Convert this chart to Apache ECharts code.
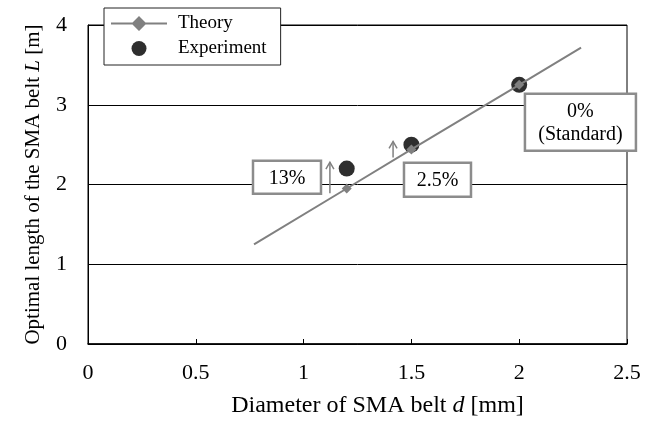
<!DOCTYPE html>
<html><head><meta charset="utf-8">
<script src="https://cdn.jsdelivr.net/npm/echarts@6/dist/echarts.min.js"></script>
<style>html,body{margin:0;padding:0;background:#fff}#c{width:658px;height:423px}</style>
</head><body><div id="c"></div>
<script>
// ---- data ----
const theoryD = [0.77, 1.2, 1.5, 2.0, 2.287];
const theoryL = [1.25, 1.95, 2.44, 3.25, 3.715];
const theoryMarked = [false, true, true, true, false];
const expD = [1.2, 1.5, 2.0];
const expL = [2.2, 2.5, 3.25];
const xTickLabels = ['0', '0.5', '1', '1.5', '2', '2.5'];
const yTickLabels = ['0', '1', '2', '3', '4'];
const noteTexts = ['13%', '2.5%', '0%\n(Standard)'];
// annotation anchors (data coordinates, box centres)
const noteAt = [[0.923, 2.09], [1.621, 2.06], [2.284, 2.78]];
// arrows: d, from L, to L
const arrowD = [1.122, 1.415];
const arrowFrom = [1.89, 2.34];
const arrowTo = [2.28, 2.54];

const FF = 'Liberation Serif';
const chart = echarts.init(document.getElementById('c'), null, {renderer: 'canvas'});

const theoryData = theoryD.map((d, i) => theoryMarked[i] ? [d, theoryL[i]] : {value: [d, theoryL[i]], symbol: 'none'});
const expData = expD.map((d, i) => [d, expL[i]]);

chart.setOption({
  animation: false,
  backgroundColor: '#fff',
  grid: {left: 88, right: 31, top: 25, bottom: 79, show: true, borderColor: '#000', borderWidth: 1, backgroundColor: 'transparent'},
  legend: {
    data: [
      {name: 'Theory', icon: 'path://M0,6.5 L56,6.5 L56,8.5 L0,8.5 Z M28,0 L35.5,7.5 L28,15 L20.5,7.5 Z'},
      {name: 'Experiment'}
    ],
    left: 104, top: 8, orient: 'vertical',
    backgroundColor: '#fff', borderColor: '#222', borderWidth: 1,
    padding: [6, 14, 7, 7], itemGap: 6, itemWidth: 56, itemHeight: 15,
    textStyle: {fontFamily: FF, fontSize: 19, color: '#000', padding: [0, 0, 0, 6]}
  },
  xAxis: {
    type: 'value', min: 0, max: 2.5, interval: 0.5,
    axisLine: {show: true, lineStyle: {color: '#000', width: 1.5}},
    axisTick: {show: true, inside: true, length: 5, lineStyle: {color: '#000'}},
    splitLine: {show: false},
    axisLabel: {fontFamily: FF, fontSize: 22, color: '#000', margin: 18,
      formatter: v => xTickLabels[Math.round(v / 0.5)]},
    name: 'Diameter of SMA belt {i|d} [mm]', nameLocation: 'middle', nameGap: 50,
    nameTextStyle: {fontFamily: FF, fontSize: 24, color: '#000', padding: [0, 0, 0, 40],
      rich: {i: {fontFamily: FF, fontSize: 24, fontStyle: 'italic', color: '#000'}}}
  },
  yAxis: {
    type: 'value', min: 0, max: 4, interval: 1,
    axisLine: {show: true, lineStyle: {color: '#000', width: 1}},
    axisTick: {show: false},
    splitLine: {show: true, lineStyle: {color: '#000', width: 1}},
    axisLabel: {fontFamily: FF, fontSize: 22, color: '#000', margin: 21,
      formatter: v => yTickLabels[Math.round(v)]},
    name: 'Optimal length of the SMA belt {i|L} [m]', nameLocation: 'middle', nameGap: 44,
    nameTextStyle: {fontFamily: FF, fontSize: 21, color: '#000',
      rich: {i: {fontFamily: FF, fontSize: 21, fontStyle: 'italic', color: '#000'}}}
  },
  series: [
    {
      name: 'Experiment', type: 'scatter', data: expData, z: 2,
      symbol: 'circle', symbolSize: 16,
      itemStyle: {color: '#2e2e2e', opacity: 1}
    },
    {
      name: 'Theory', type: 'line', data: theoryData, z: 3,
      symbol: 'diamond', symbolSize: 10, showSymbol: true,
      lineStyle: {color: '#808080', width: 2},
      itemStyle: {color: '#808080'}
    }
  ]
});

function px(d, l) { return chart.convertToPixel({gridIndex: 0}, [d, l]); }

const graphics = [];
const boxSizes = [[68, 33], [67, 34], [111, 57]];
noteTexts.forEach((t, i) => {
  const c = px(noteAt[i][0], noteAt[i][1]);
  const w = boxSizes[i][0], h = boxSizes[i][1];
  graphics.push({
    type: 'rect', shape: {x: c[0] - w / 2, y: c[1] - h / 2, width: w, height: h},
    style: {fill: '#fff', stroke: '#8c8c8c', lineWidth: 2.5}, z: 100
  });
  graphics.push({
    type: 'text', x: c[0], y: c[1] + 1, z: 101,
    style: {text: t, fontFamily: FF, fontSize: 20, fill: '#000', align: 'center', verticalAlign: 'middle', lineHeight: 23}
  });
});
arrowD.forEach((d, i) => {
  const a = px(d, arrowFrom[i]);
  const b = px(d, arrowTo[i]);
  graphics.push({
    type: 'line', shape: {x1: a[0], y1: a[1], x2: b[0], y2: b[1]},
    style: {stroke: '#808080', lineWidth: 1.5}, z: 100
  });
  graphics.push({
    type: 'polyline', shape: {points: [[b[0] - 4, b[1] + 7], [b[0], b[1]], [b[0] + 4, b[1] + 7]]},
    style: {stroke: '#808080', lineWidth: 1.5, fill: 'none'}, z: 100
  });
});
chart.setOption({graphic: graphics});
</script>
</body></html>
